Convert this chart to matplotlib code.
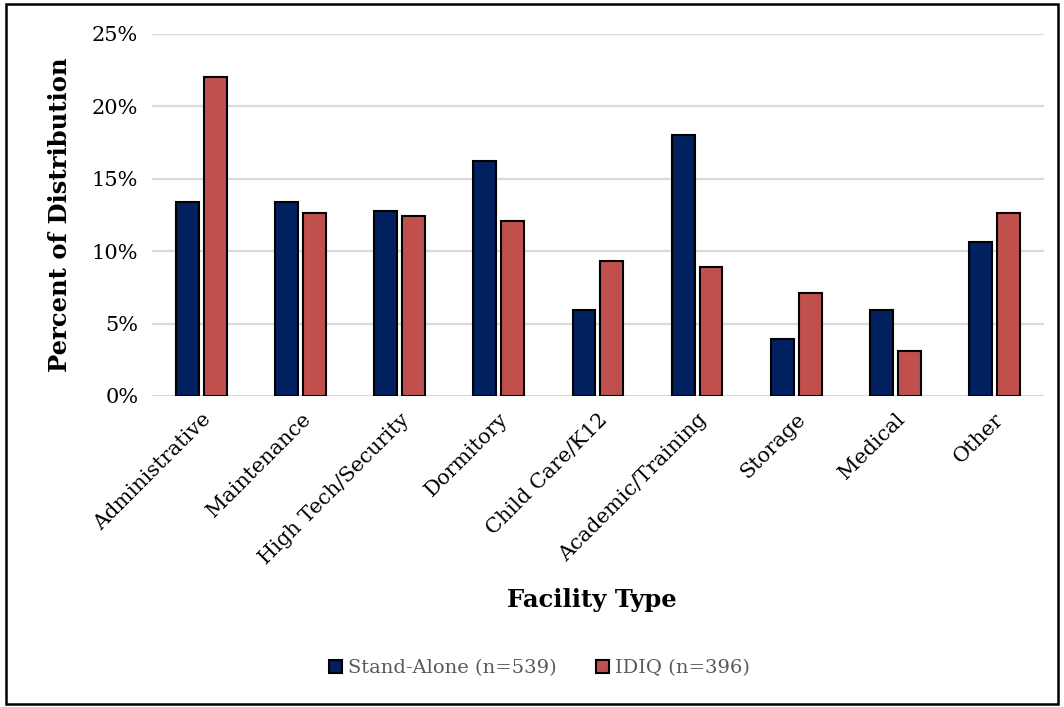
import numpy as np
import matplotlib.pyplot as plt
from matplotlib.patches import Rectangle
from matplotlib.ticker import PercentFormatter

# facility types and distribution (%) per contract type
categories = ["Administrative", "Maintenance", "High Tech/Security", "Dormitory",
              "Child Care/K12", "Academic/Training", "Storage", "Medical", "Other"]
stand_alone = [13.4, 13.4, 12.8, 16.2, 5.9, 18.0, 3.9, 5.9, 10.6]
idiq = [22.0, 12.6, 12.4, 12.1, 9.3, 8.9, 7.1, 3.1, 12.6]
series_names = ["Stand-Alone (n=539)", "IDIQ (n=396)"]

plt.rcParams['font.family'] = ['DejaVu Serif']

fig = plt.figure(figsize=(10.64, 7.07), dpi=100)
ax = fig.add_axes([0.143, 0.44, 0.838, 0.512])

x = np.arange(len(categories))
w = 0.232
off = 0.141
ax.bar(x - off, stand_alone, width=w, color="#002060", edgecolor="black", linewidth=1.5,
       label=series_names[0], zorder=3)
ax.bar(x + off, idiq, width=w, color="#c0504d", edgecolor="black", linewidth=1.5,
       label=series_names[1], zorder=3)

ax.set_xlim(-0.5, len(categories) - 0.5)
ax.set_ylim(0, 25)
ax.set_yticks(np.arange(0, 26, 5))
ax.yaxis.set_major_formatter(PercentFormatter(decimals=0))
ax.grid(axis='y', color="#d9d9d9", linewidth=1.6, zorder=0)
for s in ax.spines.values():
    s.set_visible(False)
ax.tick_params(axis='both', length=0, labelsize=15, pad=10)
ax.set_xticks(x)
ax.set_xticklabels(categories, rotation=45, ha='right', rotation_mode='anchor')
ax.tick_params(axis='x', pad=10)

ax.set_ylabel("Percent of Distribution", fontsize=17.5, fontweight='bold', labelpad=14)
fig.text(0.556, 0.152, "Facility Type", fontsize=17.5, fontweight='bold', ha='center', va='center')

fig.legend(loc='center', bbox_to_anchor=(0.507, 0.055), ncol=2, frameon=False,
           fontsize=14, handlelength=0.7, handleheight=0.7, handletextpad=0.3,
           columnspacing=2.0, labelcolor="#595959")

# outer frame
fig.patches.append(Rectangle((0.006, 0.004), 0.988, 0.99, transform=fig.transFigure,
                             fill=False, edgecolor="black", linewidth=1.8))

fig.savefig("out.png", dpi=100)
